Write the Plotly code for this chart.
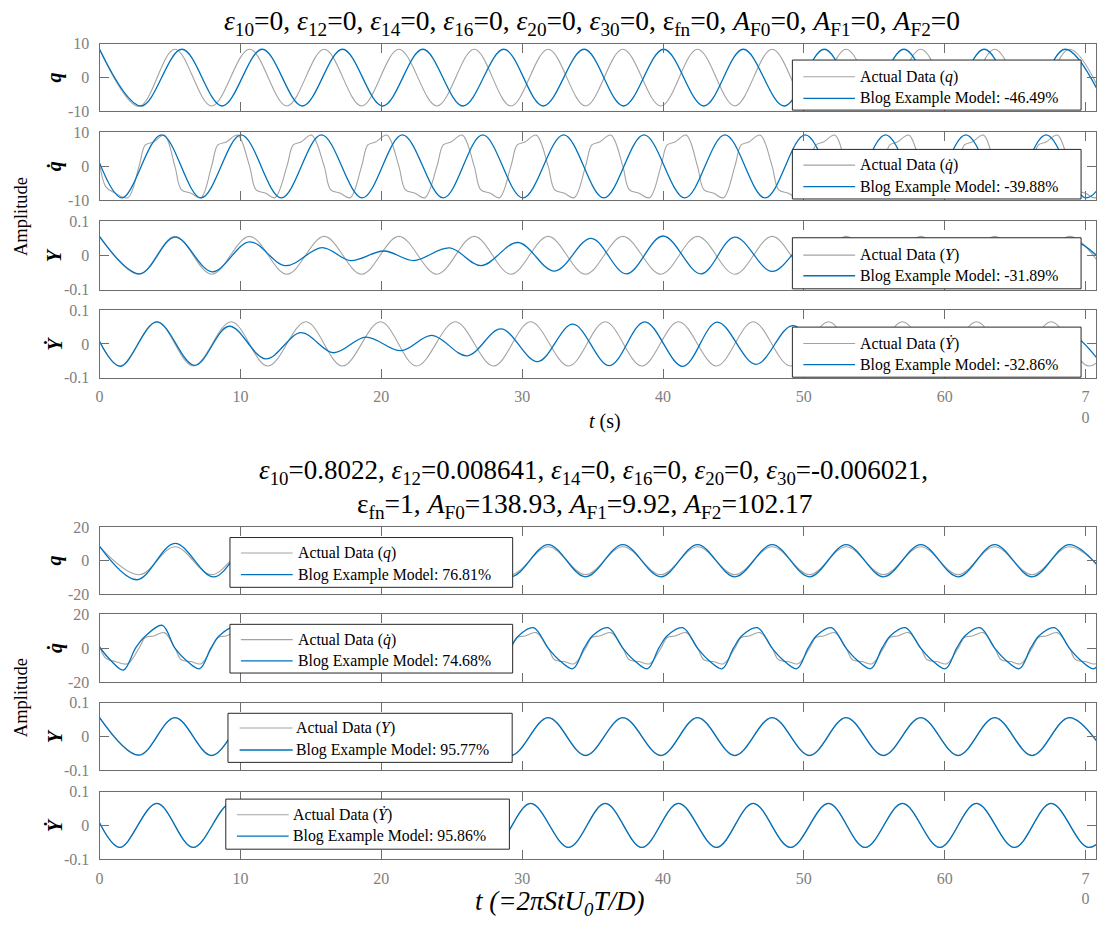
import plotly.graph_objects as go

W, H = 1097, 939

# ---------------------------------------------------------------------------
# Measured series (knots at extrema / shape points, time in s)
# ---------------------------------------------------------------------------

# Actual data: q and Y share the same extremum times
t_act = [0, 2.8, 5.35, 7.95, 10.65, 13.3, 15.95, 18.6, 21.25, 23.95, 26.6,
         29.2, 31.85, 34.5, 37.15, 39.85, 42.45, 45.1, 47.75, 50.4, 53.0,
         55.65, 58.3, 60.95, 63.55, 66.2, 68.85, 71.5]
q_act = [8.4, -8.5, 8.4, -8.4, 8.4, -8.4, 8.4, -8.4, 8.4, -8.4, 8.4,
         -8.4, 8.4, -8.4, 8.4, -8.4, 8.4, -8.4, 8.4, -8.4, 8.4,
         -8.4, 8.4, -8.4, 8.4, -8.4, 8.4, -8.4]
Y_act = [0.056, -0.055, 0.056, -0.055, 0.056, -0.055, 0.056, -0.055, 0.056,
         -0.055, 0.056, -0.055, 0.056, -0.055, 0.056, -0.055, 0.056, -0.055,
         0.056, -0.055, 0.056, -0.055, 0.056, -0.055, 0.056, -0.055, 0.056,
         -0.055]

# Actual data: q-dot (steep crossings, shoulders before each extremum)
t_act_qd = [0, 0.45, 1.1, 2.0, 2.8, 3.25, 3.85, 4.6,
            5.35, 5.8, 6.5, 7.2, 7.95, 8.4, 9.0, 9.8,
            10.65, 11.1, 11.8, 12.45, 13.3, 13.75, 14.3, 15.05,
            15.95, 16.4, 17.1, 17.8, 18.6, 19.05, 19.6, 20.4,
            21.25, 21.7, 22.4, 23.1, 23.95, 24.4, 24.95, 25.75,
            26.6, 27.05, 27.75, 28.4, 29.2, 29.65, 30.2, 31.0,
            31.85, 32.3, 33.0, 33.7, 34.5, 34.95, 35.5, 36.3,
            37.15, 37.6, 38.3, 39.05, 39.85, 40.3, 40.85, 41.65,
            42.45, 42.9, 43.6, 44.3, 45.1, 45.55, 46.1, 46.9,
            47.75, 48.2, 48.9, 49.6, 50.4, 50.85, 51.4, 52.2,
            53.0, 53.45, 54.15, 54.85, 55.65, 56.1, 56.65, 57.45,
            58.3, 58.75, 59.45, 60.15, 60.95, 61.4, 61.95, 62.75,
            63.55, 64.0, 64.7, 65.4, 66.2, 66.65, 67.2, 68.0,
            68.85, 69.3, 70.0, 70.7, 71.5]
qd_act = [1.0, -6.0, -7.8, -9.2, 0, 6.3, 7.2, 9.2,
          0, -6.8, -7.9, -9.2, 0, 6.3, 7.2, 9.2,
          0, -6.8, -7.9, -9.2, 0, 6.3, 7.2, 9.2,
          0, -6.8, -7.9, -9.2, 0, 6.3, 7.2, 9.2,
          0, -6.8, -7.9, -9.2, 0, 6.3, 7.2, 9.2,
          0, -6.8, -7.9, -9.2, 0, 6.3, 7.2, 9.2,
          0, -6.8, -7.9, -9.2, 0, 6.3, 7.2, 9.2,
          0, -6.8, -7.9, -9.2, 0, 6.3, 7.2, 9.2,
          0, -6.8, -7.9, -9.2, 0, 6.3, 7.2, 9.2,
          0, -6.8, -7.9, -9.2, 0, 6.3, 7.2, 9.2,
          0, -6.8, -7.9, -9.2, 0, 6.3, 7.2, 9.2,
          0, -6.8, -7.9, -9.2, 0, 6.3, 7.2, 9.2,
          0, -6.8, -7.9, -9.2, 0, 6.3, 7.2, 9.2,
          0, -6.8, -7.9, -9.2, 0]

# Actual data: Y-dot
t_act_yd = [0, 1.45, 4.07, 6.64, 9.35, 11.94, 14.65, 17.24, 19.95, 22.5,
            25.26, 27.97, 30.6, 33.3, 35.9, 38.5, 41.1, 43.8, 46.4, 49.05,
            51.75, 54.35, 57.0, 59.65, 62.25, 64.95, 67.55, 70.25, 72.9]
yd_act = [0.007, -0.065, 0.065, -0.065, 0.065, -0.065, 0.065, -0.065, 0.065,
          -0.065, 0.065, -0.065, 0.065, -0.065, 0.065, -0.065, 0.065, -0.065,
          0.065, -0.065, 0.065, -0.065, 0.065, -0.065, 0.065, -0.065, 0.065,
          -0.065, 0.065]

# Model with all coefficients zero
t_m1_q = [0, 2.95, 5.85, 8.7, 11.55, 14.4, 17.25, 20.1, 22.95, 25.8, 28.7,
          31.5, 34.4, 37.2, 40.05, 42.9, 45.7, 48.6, 51.45, 54.3, 57.1, 60.0,
          62.8, 65.7, 68.55, 71.4]
q_m1 = [8.4, -8.4, 8.4, -8.4, 8.4, -8.4, 8.4, -8.4, 8.4, -8.4, 8.4,
        -8.4, 8.4, -8.4, 8.4, -8.4, 8.4, -8.4, 8.4, -8.4, 8.4, -8.4,
        8.4, -8.4, 8.4, -8.4]

t_m1_qd = [0, 1.6, 4.4, 7.2, 10.05, 12.9, 15.75, 18.65, 21.5, 24.4, 27.2,
           30.05, 32.95, 35.8, 38.65, 41.55, 44.4, 47.25, 50.1, 52.95, 55.8,
           58.65, 61.5, 64.35, 67.2, 70.05, 72.9]
qd_m1 = [1.0, -9.25, 9.25, -9.25, 9.25, -9.25, 9.25, -9.25, 9.25, -9.25,
         9.25, -9.25, 9.25, -9.25, 9.25, -9.25, 9.25, -9.25, 9.25, -9.25,
         9.25, -9.25, 9.25, -9.25, 9.25, -9.25, 9.25]

t_m1_Y = [0, 2.85, 5.35, 8.0, 10.65, 13.2, 15.8, 17.8, 20.2, 22.3, 24.85,
          27.1, 29.7, 32.3, 34.9, 37.4, 40.0, 42.7, 45.1, 47.75, 50.3, 52.9,
          55.4, 57.7, 60.1, 62.3, 64.4, 66.7, 69.2, 71.8]
Y_m1 = [0.055, -0.054, 0.054, -0.048, 0.04, -0.03, 0.023, -0.015, 0.013,
        -0.015, 0.022, -0.03, 0.038, -0.046, 0.05, -0.054, 0.057, -0.054,
        0.054, -0.047, 0.038, -0.03, 0.022, -0.015, 0.013, -0.015, 0.022,
        -0.03, 0.04, -0.046]

t_m1_yd = [0, 1.48, 4.07, 6.75, 9.2, 11.8, 14.3, 16.6, 18.9, 21.4, 23.6,
           26.1, 28.5, 31.1, 33.6, 36.2, 38.7, 41.4, 43.85, 46.6, 49.2, 51.8,
           54.3, 56.6, 58.9, 61.2, 63.4, 65.8, 68.3, 71.0]
yd_m1 = [0.007, -0.066, 0.065, -0.063, 0.052, -0.044, 0.033, -0.026, 0.02,
         -0.02, 0.025, -0.035, 0.044, -0.052, 0.058, -0.064, 0.065, -0.066,
         0.064, -0.06, 0.054, -0.045, 0.035, -0.026, 0.02, -0.02, 0.026,
         -0.034, 0.044, -0.052]

# Identified model
t_m2_q = [0, 2.65, 5.35, 8.1, 10.65, 13.3, 15.95, 18.6, 21.25, 23.95, 26.6,
          29.2, 31.85, 34.5, 37.15, 39.85, 42.45, 45.1, 47.75, 50.4, 53.0,
          55.65, 58.3, 60.95, 63.55, 66.2, 68.85, 71.5]
q_m2 = [8.6, -11.5, 10.4, -9.8, 9.6, -9.7, 9.6, -9.7, 9.6, -9.7, 9.6,
        -9.7, 9.6, -9.7, 9.6, -9.7, 9.6, -9.7, 9.6, -9.7, 9.6,
        -9.7, 9.6, -9.7, 9.6, -9.7, 9.6, -9.7]

t_m2_qd = [0, 0.75, 1.7, 2.55, 3.2, 4.45,
           5.35, 6.1, 7.1, 7.9, 8.5, 9.6,
           10.65, 11.4, 12.4, 13.2, 13.8, 14.9,
           15.95, 16.7, 17.7, 18.5, 19.1, 20.2,
           21.25, 22.0, 23.0, 23.8, 24.4, 25.5,
           26.6, 27.35, 28.35, 29.15, 29.75, 30.8,
           31.85, 32.6, 33.6, 34.4, 35.0, 36.1,
           37.15, 37.9, 38.9, 39.7, 40.3, 41.4,
           42.45, 43.2, 44.2, 45.0, 45.6, 46.7,
           47.75, 48.5, 49.5, 50.3, 50.9, 51.95,
           53.0, 53.75, 54.75, 55.55, 56.15, 57.2,
           58.3, 59.05, 60.05, 60.85, 61.45, 62.5,
           63.55, 64.3, 65.3, 66.1, 66.7, 67.8,
           68.85, 69.6, 70.6, 71.4]
qd_m2 = [0.7, -6.8, -12.9, 0, 6.8, 13.5,
         0, -6.8, -12.1, 0, 7.4, 12.3,
         0, -6.8, -12.1, 0, 7.4, 12.1,
         0, -6.8, -12.1, 0, 7.4, 12.1,
         0, -6.8, -12.1, 0, 7.4, 12.1,
         0, -6.8, -12.1, 0, 7.4, 12.1,
         0, -6.8, -12.1, 0, 7.4, 12.1,
         0, -6.8, -12.1, 0, 7.4, 12.1,
         0, -6.8, -12.1, 0, 7.4, 12.1,
         0, -6.8, -12.1, 0, 7.4, 12.1,
         0, -6.8, -12.1, 0, 7.4, 12.1,
         0, -6.8, -12.1, 0, 7.4, 12.1,
         0, -6.8, -12.1, 0, 7.4, 12.1,
         0, -6.8, -12.1, 0]

Y_m2 = [0.056, -0.055, 0.056, -0.056, 0.056, -0.056, 0.056, -0.056, 0.056,
        -0.056, 0.056, -0.056, 0.056, -0.056, 0.056, -0.056, 0.056, -0.056,
        0.056, -0.056, 0.056, -0.056, 0.056, -0.056, 0.056, -0.056, 0.056,
        -0.056]
yd_m2 = [0.008, -0.065, 0.065, -0.065, 0.065, -0.065, 0.065, -0.065, 0.065,
         -0.065, 0.065, -0.065, 0.065, -0.065, 0.065, -0.065, 0.065, -0.065,
         0.065, -0.065, 0.065, -0.065, 0.065, -0.065, 0.065, -0.065, 0.065,
         -0.065, 0.065]

fit_m1 = ["-46.49%", "-39.88%", "-31.89%", "-32.86%"]
fit_m2 = ["76.81%", "74.68%", "95.77%", "95.86%"]

x_ticks = [0, 10, 20, 30, 40, 50, 60, 70]
x_ticktext = ["0", "10", "20", "30", "40", "50", "60", "7<br>0"]

# ---------------------------------------------------------------------------
GRAY = "#a3a3a3"
BLUE = "#0072BD"
AXC = "#6e6e6e"
TXT = "#808080"
FONT = "Liberation Serif, Times New Roman, serif"


def px(x):
    return x / W


def py(y):
    return 1 - y / H


# panel frames in pixels (top, bottom)
frames = [(36.5, 105.3), (126.7, 196.0), (217.3, 286.7), (307.5, 376.7),
          (529.0, 596.7), (617.5, 686.5), (707.5, 776.5), (798.0, 867.0)]
yranges = [[-10, 10], [-10, 10], [-0.1, 0.1], [-0.1, 0.1],
           [-20, 20], [-20, 20], [-0.1, 0.1], [-0.1, 0.1]]
yticks = [([-10, 0, 10], ["-10", "0", "10"]),
          ([-10, 0, 10], ["-10", "0", "10"]),
          ([-0.1, 0, 0.1], ["-0.1", "0", "0.1"]),
          ([-0.1, 0, 0.1], ["-0.1", "0", "0.1"]),
          ([-20, 0, 20], ["-20", "0", "20"]),
          ([-20, 0, 20], ["-20", "0", "20"]),
          ([-0.1, 0, 0.1], ["-0.1", "0", "0.1"]),
          ([-0.1, 0, 0.1], ["-0.1", "0", "0.1"])]

series = [
    ((t_act, q_act), (t_m1_q, q_m1)),
    ((t_act_qd, qd_act), (t_m1_qd, qd_m1)),
    ((t_act, Y_act), (t_m1_Y, Y_m1)),
    ((t_act_yd, yd_act), (t_m1_yd, yd_m1)),
    ((t_act, q_act), (t_m2_q, q_m2)),
    ((t_act_qd, qd_act), (t_m2_qd, qd_m2)),
    ((t_act, Y_act), (t_act, Y_m2)),
    ((t_act_yd, yd_act), (t_act_yd, yd_m2)),
]

fig = go.Figure()
layout = {}
for i in range(8):
    n = "" if i == 0 else str(i + 1)
    (ta, va), (tm, vm) = series[i]
    fig.add_trace(go.Scatter(x=ta, y=va, mode="lines", xaxis="x" + n, yaxis="y" + n,
                             line=dict(color=GRAY, width=1.1, shape="spline"),
                             hoverinfo="skip", showlegend=False))
    fig.add_trace(go.Scatter(x=tm, y=vm, mode="lines", xaxis="x" + n, yaxis="y" + n,
                             line=dict(color=BLUE, width=1.3, shape="spline"),
                             hoverinfo="skip", showlegend=False))
    top, bot = frames[i]
    layout["xaxis" + n] = dict(
        domain=[px(96), 1], range=[0, 70.74], anchor="y" + n,
        tickvals=x_ticks, ticktext=x_ticktext, ticks="inside", ticklen=9,
        tickcolor=AXC, showline=True, linecolor=AXC, linewidth=1,
        mirror="ticks", showgrid=False, zeroline=False,
        showticklabels=(i in (3, 7)), ticklabelstandoff=4,
        tickfont=dict(family=FONT, size=16, color=TXT))
    layout["yaxis" + n] = dict(
        domain=[py(bot), py(top)], range=yranges[i], anchor="x" + n,
        tickvals=yticks[i][0], ticktext=yticks[i][1], ticks="inside",
        ticklen=9, tickcolor=AXC, showline=True, linecolor=AXC, linewidth=1,
        mirror="ticks", showgrid=False, zeroline=False, ticklabelstandoff=6,
        tickfont=dict(family=FONT, size=16, color=TXT))

shapes = []
annotations = []


def text(x, y, s, size, color="#000000", angle=0, xanchor="center"):
    annotations.append(dict(x=px(x), y=py(y), xref="paper", yref="paper",
                            text=s, showarrow=False, textangle=angle,
                            xanchor=xanchor, yanchor="middle", borderpad=0,
                            font=dict(family=FONT, size=size, color=color)))


# legend boxes: (x0, y0, x1, y1, line x0, line x1, text x, row1 y, row2 y)
legend_boxes = [
    (792, 53, 1082, 104, 803, 855, 862, 70, 92),
    (792, 144, 1082, 194.5, 803, 855, 862, 160, 182),
    (792, 234, 1082, 286, 803, 855, 862, 251.7, 272.7),
    (792, 325, 1082, 376, 803, 855, 862, 341.7, 363.3),
    (227, 539.3, 511, 590, 238, 290, 297, 555, 577),
    (227, 627.7, 511, 677.3, 238, 290, 297, 643.3, 665),
    (225, 718.3, 510.5, 768.3, 236.7, 290, 295, 733.3, 755.7),
    (222.8, 805.7, 507.7, 856.7, 234, 286, 292, 821.7, 843.3),
]
sym = ["<i>q</i>", "<i>q\u0307</i>", "<i>Y</i>", "<i>\u1E8E</i>"]
fits = fit_m1 + fit_m2
for i, (x0, y0, x1, y1, lx0, lx1, tx, r1, r2) in enumerate(legend_boxes):
    shapes.append(dict(type="rect", xref="paper", yref="paper",
                       x0=px(x0), x1=px(x1), y0=py(y1), y1=py(y0),
                       fillcolor="white", line=dict(color="#262626", width=1),
                       layer="above"))
    shapes.append(dict(type="line", xref="paper", yref="paper",
                       x0=px(lx0), x1=px(lx1), y0=py(r1), y1=py(r1),
                       line=dict(color=GRAY, width=1.1), layer="above"))
    shapes.append(dict(type="line", xref="paper", yref="paper",
                       x0=px(lx0), x1=px(lx1), y0=py(r2), y1=py(r2),
                       line=dict(color=BLUE, width=1.3), layer="above"))
    text(tx - 3, r1, "Actual Data (" + sym[i % 4] + ")", 15.8, "#000000", xanchor="left")
    text(tx - 3, r2, "Blog Example Model: " + fits[i], 15.8, "#000000", xanchor="left")

# y labels of each panel
ylab = ["<b><i>q</i></b>", "<b><i>q\u0307</i></b>", "<b><i>Y</i></b>",
        "<b><i>\u1E8E</i></b>"]
for i in range(8):
    top, bot = frames[i]
    text(51, (top + bot) / 2, ylab[i % 4], 20, angle=-90)

text(17, 212, "Amplitude", 18.5, angle=-90)
text(17, 702, "Amplitude", 18.5, angle=-90)

# titles
title1 = ("<i>\u03b5</i><sub>10</sub>=0, <i>\u03b5</i><sub>12</sub>=0, "
          "<i>\u03b5</i><sub>14</sub>=0, <i>\u03b5</i><sub>16</sub>=0, "
          "<i>\u03b5</i><sub>20</sub>=0, <i>\u03b5</i><sub>30</sub>=0, "
          "\u03b5<sub>fn</sub>=0, <i>A</i><sub>F0</sub>=0, "
          "<i>A</i><sub>F1</sub>=0, <i>A</i><sub>F2</sub>=0")
text(591, 15, title1, 27.5)
title2a = ("<i>\u03b5</i><sub>10</sub>=0.8022, <i>\u03b5</i><sub>12</sub>=0.008641, "
           "<i>\u03b5</i><sub>14</sub>=0, <i>\u03b5</i><sub>16</sub>=0, "
           "<i>\u03b5</i><sub>20</sub>=0, <i>\u03b5</i><sub>30</sub>=-0.006021,")
title2b = ("\u03b5<sub>fn</sub>=1, <i>A</i><sub>F0</sub>=138.93, "
           "<i>A</i><sub>F1</sub>=9.92, <i>A</i><sub>F2</sub>=102.17")
text(592, 473, title2a, 27)
text(584, 507, title2b, 27.5)

# x titles
text(604, 421, "<i>t</i> (s)", 20)
text(558, 912, "<i>t (=2\u03c0StU<sub>0</sub>T/D)</i>", 27)

fig.update_layout(width=W, height=H, margin=dict(l=0, r=0, t=0, b=0),
                  paper_bgcolor="white", plot_bgcolor="white",
                  showlegend=False, shapes=shapes, annotations=annotations,
                  font=dict(family=FONT), **layout)

fig.write_html("out.html")
